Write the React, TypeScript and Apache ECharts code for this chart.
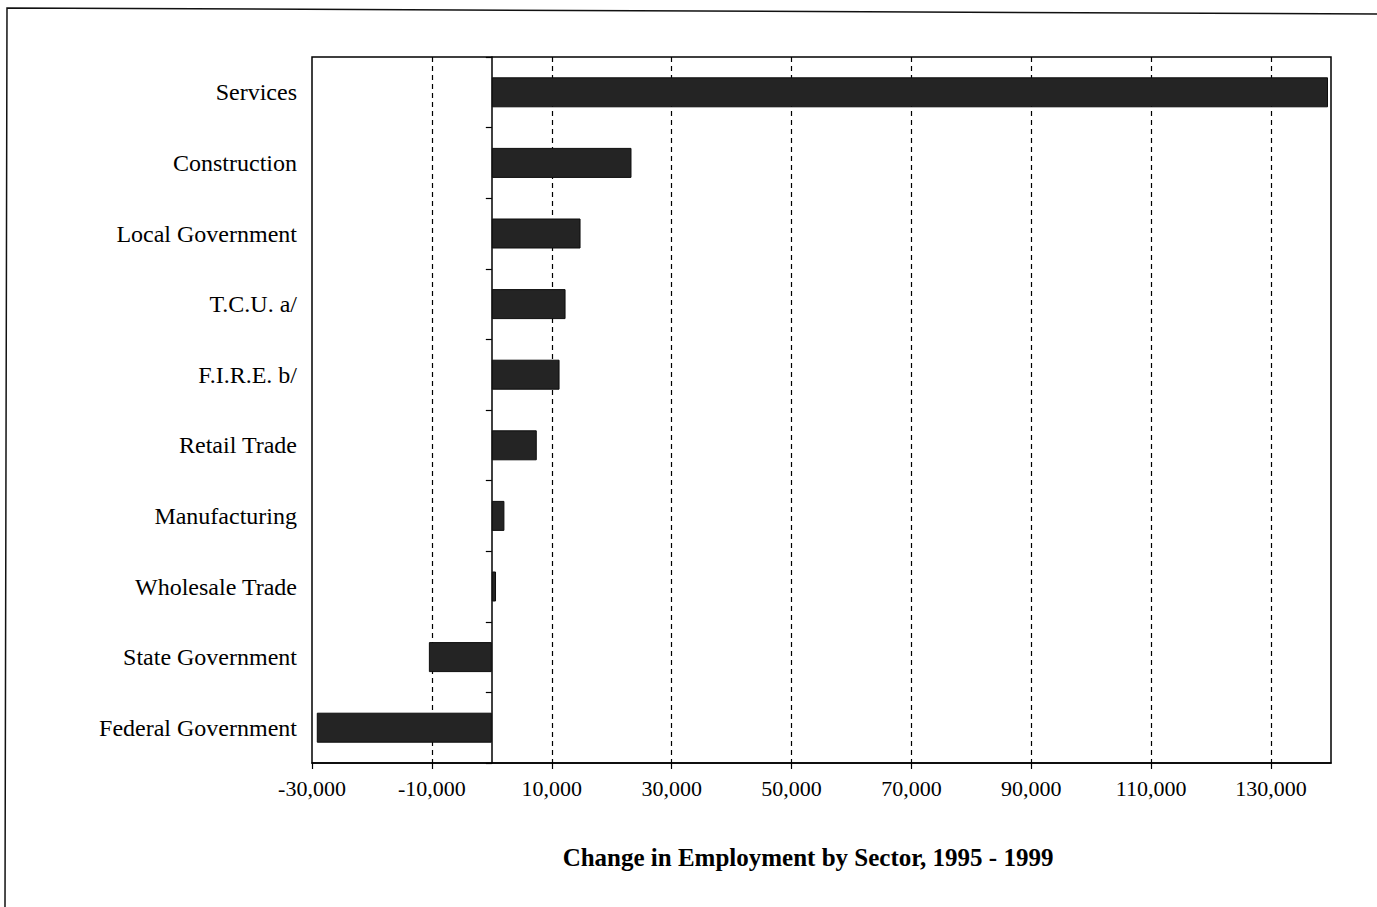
import React, { useEffect, useRef } from "react";
import * as echarts from "echarts";

const categories = [
  "Services",
  "Construction",
  "Local Government",
  "T.C.U. a/",
  "F.I.R.E. b/",
  "Retail Trade",
  "Manufacturing",
  "Wholesale Trade",
  "State Government",
  "Federal Government",
];

const changeValues = [139500, 23300, 14800, 12300, 11300, 7500, 2100, 700, -10500, -29200];

const tickValues = [-30000, -10000, 10000, 30000, 50000, 70000, 90000, 110000, 130000];

const axisMin = -30000;
const axisMax = 140000;

const chartTitle = "Change in Employment by Sector, 1995 - 1999";

const FONT = "'Liberation Serif', 'Times New Roman', serif";

export default function App() {
  const ref = useRef<HTMLDivElement>(null);

  useEffect(() => {
    if (!ref.current) return;
    const chart = echarts.init(ref.current, null, { renderer: "svg" });
    const fmt = (v: number) => {
      const s = Math.abs(v).toString().replace(/\B(?=(\d{3})+(?!\d))/g, ",");
      return (v < 0 ? "-" : "") + s;
    };
    chart.setOption({
      animation: false,
      backgroundColor: "#ffffff",
      grid: {
        left: 312,
        right: 46,
        top: 57,
        bottom: 144,
        show: true,
        borderColor: "#000",
        borderWidth: 1.5,
        backgroundColor: "transparent",
      },
      xAxis: {
        type: "value",
        min: axisMin,
        max: axisMax,
        position: "bottom",
        axisLine: { show: true, onZero: false, lineStyle: { color: "#000", width: 1.5 } },
        axisTick: {
          show: true,
          customValues: tickValues,
          length: 6,
          lineStyle: { color: "#000", width: 1.2 },
        },
        axisLabel: {
          customValues: tickValues,
          formatter: (v: number) => fmt(v),
          fontFamily: FONT,
          fontSize: 22,
          color: "#000",
          margin: 14,
        },
        splitLine: {
          show: true,
          showMinLine: false,
          lineStyle: { color: "#000", width: 1.2, type: [5, 4] },
        },
      },
      yAxis: [
        {
          type: "category",
          data: categories,
          inverse: true,
          axisLine: { show: true, onZero: true, lineStyle: { color: "#000", width: 1.5 } },
          axisTick: { show: true, length: 6, lineStyle: { color: "#000", width: 1.2 } },
          axisLabel: { show: false },
          splitLine: { show: false },
        },
        {
          type: "category",
          data: categories,
          inverse: true,
          position: "left",
          axisLine: { show: false, onZero: false },
          axisTick: { show: false },
          axisLabel: {
            show: true,
            fontFamily: FONT,
            fontSize: 24,
            color: "#000",
            margin: 15,
          },
          splitLine: { show: false },
        },
      ],
      series: [
        {
          type: "bar",
          yAxisIndex: 0,
          data: changeValues,
          barWidth: 30,
          itemStyle: { color: "#242424", borderColor: "#0d0d0d", borderWidth: 1 },
        },
      ],
      graphic: [
        {
          type: "polyline",
          shape: { points: [[5, 907], [7, 8], [1377, 14]] },
          style: { stroke: "#111", lineWidth: 1.5, fill: null },
        },
        {
          type: "text",
          x: 808,
          y: 857,
          style: {
            text: chartTitle,
            font: `bold 25px ${FONT}`,
            fill: "#000",
            textAlign: "center",
            textVerticalAlign: "middle",
          },
        },
      ],
    });
    return () => chart.dispose();
  }, []);

  return (
    <div
      ref={ref}
      style={{ position: "fixed", left: 0, top: 0, width: 1377, height: 907 }}
    />
  );
}
